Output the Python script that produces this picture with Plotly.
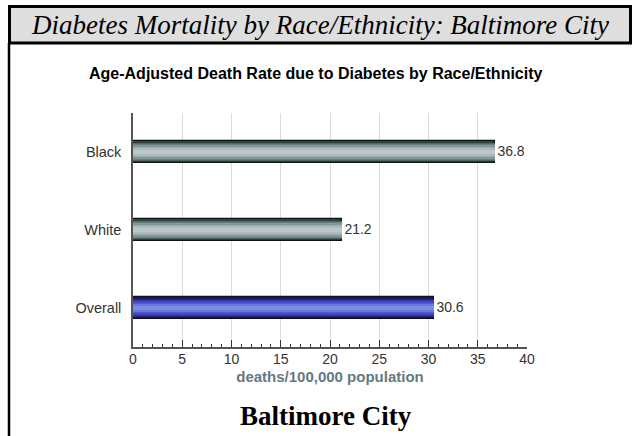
import plotly.graph_objects as go

# ---- data ----
categories = ["Black", "White", "Overall"]
values = [36.8, 21.2, 30.6]
x_ticks = [0, 5, 10, 15, 20, 25, 30, 35, 40]

header_text = "Diabetes Mortality by Race/Ethnicity: Baltimore City"
chart_title = "Age-Adjusted Death Rate due to Diabetes by Race/Ethnicity"
x_title = "deaths/100,000 population"
footer_text = "Baltimore City"

# ---- geometry (pixels) ----
W, H = 632, 436
L, R, T, B = 133, 527, 113, 347
ml, mr, mt, mb = L, W - R, T, H - B
pw, ph = R - L, B - T

def px(x):
    return (x - L) / pw

def py(y):
    return (B - y) / ph

# gradient layers (width in category units, color for gray bars, color for blue bar)
layers = [
    (0.27, "#2f4447", "#14146c"),
    (0.24, "#4f6568", "#23268e"),
    (0.21, "#6a7f82", "#3036a8"),
    (0.17, "#83979a", "#4049bd"),
    (0.13, "#9aabac", "#5460cf"),
    (0.09, "#aebbbc", "#6978dc"),
    (0.05, "#bcc7c7", "#7c8ce6"),
]

def bar_colors(idx):
    return [layers[idx][2] if c == "Overall" else layers[idx][1] for c in categories]

fig = go.Figure()
for i, (w, cg, cb) in enumerate(layers):
    outer = i == 0
    fig.add_trace(go.Bar(
        y=categories, x=values, orientation="h",
        width=w,
        marker=dict(color=bar_colors(i),
                    line=dict(color="#111111", width=1.2 if outer else 0)),
        text=[f"{v:.1f}" for v in values] if outer else None,
        textposition="outside" if outer else "none",
        textfont=dict(family="Liberation Sans, Arial", size=14, color="#333333"),
        cliponaxis=False,
        hoverinfo="skip",
        showlegend=False,
    ))

fig.update_layout(
    width=W, height=H,
    margin=dict(l=ml, r=mr, t=mt, b=mb, pad=0),
    paper_bgcolor="white", plot_bgcolor="white",
    barmode="overlay",
    bargap=0,
    font=dict(family="Liberation Sans, Arial", size=14, color="#333333"),
    showlegend=False,
)

fig.update_xaxes(
    range=[0, 40], tickvals=x_ticks, ticktext=[str(t) for t in x_ticks],
    showgrid=True, gridcolor="#dcdcdc", gridwidth=1,
    zeroline=False,
    showline=True, linecolor="#555555", linewidth=1.5,
    ticks="inside", ticklen=7, tickcolor="#333333", tickwidth=1,
    minor=dict(dtick=1, ticks="inside", ticklen=3, tickcolor="#333333", showgrid=False),
    tickfont=dict(size=14, color="#333333"),
    ticklabelstandoff=-2,
    title=dict(text=f"<b>{x_title}</b>", font=dict(size=15, color="#627a80"), standoff=6),
    fixedrange=True,
)
fig.update_yaxes(
    type="category", categoryorder="array", categoryarray=categories[::-1],
    range=[-0.5, 2.5],
    showgrid=False, zeroline=False,
    showline=True, linecolor="#555555", linewidth=1.5,
    ticks="", ticklabelstandoff=7,
    tickfont=dict(size=14.5, color="#333333"),
    fixedrange=True,
)

shapes = [
    # header band
    dict(type="rect", xref="paper", yref="paper",
         x0=px(9.5), x1=px(630.5), y0=py(43), y1=py(6.5),
         fillcolor="#dedede", line=dict(color="black", width=3), layer="below"),
    # left frame line
    dict(type="line", xref="paper", yref="paper",
         x0=px(9), x1=px(9), y0=py(43), y1=py(440),
         line=dict(color="black", width=2.5)),
]
fig.update_layout(shapes=shapes)

annotations = [
    dict(text=f"<i>{header_text}</i>", xref="paper", yref="paper",
         x=px(320), y=py(25), xanchor="center", yanchor="middle", showarrow=False,
         font=dict(family="Liberation Serif, serif", size=27, color="black")),
    dict(text=f"<b>{chart_title}</b>", xref="paper", yref="paper",
         x=px(316), y=py(74), xanchor="center", yanchor="middle", showarrow=False,
         font=dict(family="Liberation Sans, Arial", size=16, color="black")),
    dict(text=f"<b>{footer_text}</b>", xref="paper", yref="paper",
         x=px(326), y=py(416), xanchor="center", yanchor="middle", showarrow=False,
         font=dict(family="Liberation Serif, serif", size=27, color="black")),
]
fig.update_layout(annotations=annotations)

fig.write_html("out.html", config={"displayModeBar": False},
               post_script="document.body.style.margin='0';")
